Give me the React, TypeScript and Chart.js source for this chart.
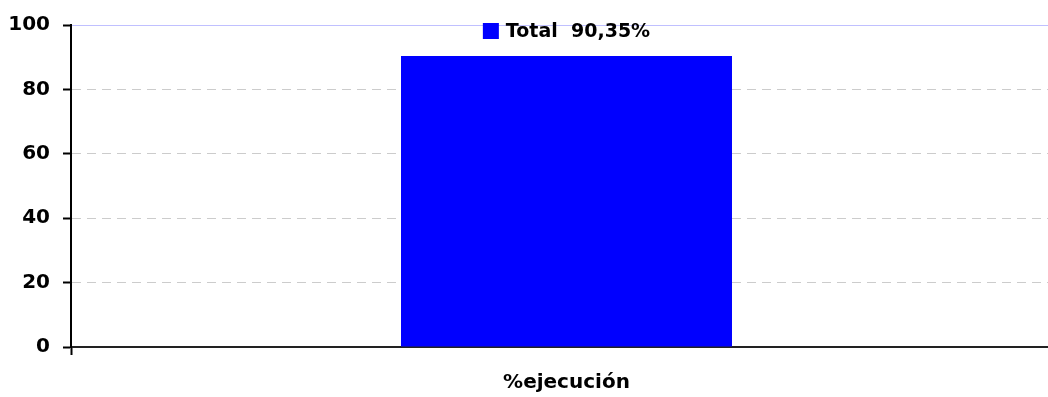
import React, { useEffect, useRef } from "react";
import { Chart, registerables } from "chart.js";

Chart.register(...registerables);

const categories = ["%ejecución"];
const seriesLabel = "Total";
const seriesValues = [90.35];
const yTicks = [0, 20, 40, 60, 80, 100];

const FONT = "'DejaVu Sans', Arial, sans-serif";

const legendPlugin = {
  id: "topLegend",
  afterDraw(chart: any) {
    const { ctx, chartArea } = chart;
    const ds = chart.data.datasets[0];
    const text = `${ds.label}  ${ds.data[0].toFixed(2).replace(".", ",")}%`;
    ctx.save();
    ctx.font = `bold 19px ${FONT}`;
    const tw = ctx.measureText(text).width;
    const box = 16;
    const gap = 7;
    const total = box + gap + tw;
    const cx = (chartArea.left + chartArea.right) / 2;
    const x0 = cx - total / 2;
    const cy = 31;
    ctx.fillStyle = ds.backgroundColor;
    ctx.fillRect(x0, cy - box / 2, box, box);
    ctx.fillStyle = "#000";
    ctx.textBaseline = "middle";
    ctx.textAlign = "left";
    ctx.fillText(text, x0 + box + gap, cy + 1);
    ctx.restore();
  },
};

export default function App() {
  const ref = useRef<HTMLCanvasElement | null>(null);
  useEffect(() => {
    document.body.style.margin = "0";
    const chart = new Chart(ref.current as HTMLCanvasElement, {
      type: "bar",
      data: {
        labels: categories,
        datasets: [
          {
            label: seriesLabel,
            data: seriesValues,
            backgroundColor: "#0000ff",
            borderWidth: 0,
            categoryPercentage: 1,
            barPercentage: 0.334,
          },
        ],
      },
      options: {
        responsive: false,
        animation: false,
        layout: { padding: { top: 23, right: 0, left: 0, bottom: 0 } },
        plugins: { legend: { display: false }, tooltip: { enabled: false } },
        scales: {
          x: {
            offset: true,
            grid: {
              display: true,
              drawOnChartArea: false,
              drawTicks: true,
              tickLength: 8,
              tickColor: "#000",
              tickWidth: 2,
              offset: true,
            },
            border: { display: true, color: "#222", width: 2 },
            ticks: {
              color: "#000",
              padding: 16,
              font: { family: FONT, size: 20, weight: "bold" },
            },
            afterFit(scale: any) {
              scale.height = 50;
            },
          },
          y: {
            min: 0,
            max: 100,
            afterBuildTicks(scale: any) {
              scale.ticks = yTicks.map((v) => ({ value: v }));
            },
            grid: {
              color: (c: any) => (c.tick && c.tick.value === 100 ? "#c0c0ff" : "#cccccc"),
              lineWidth: 1,
              tickLength: 8,
              tickColor: "#000",
              tickWidth: 2,
              tickBorderDash: [],
            },
            border: {
              display: true,
              color: "#000",
              width: 2,
              dash: (c: any) => (c.tick && c.tick.value === 100 ? [] : [9, 6]),
            },
            ticks: {
              color: "#000",
              padding: 13,
              font: { family: FONT, size: 20, weight: "bold" },
            },
            afterFit(scale: any) {
              scale.width = 71;
            },
          },
        },
      },
      plugins: [legendPlugin],
    });
    return () => chart.destroy();
  }, []);
  return (
    <div style={{ width: 1048, height: 397, overflow: "hidden" }}>
      <canvas ref={ref} width={1062} height={397} style={{ display: "block" }} />
    </div>
  );
}
